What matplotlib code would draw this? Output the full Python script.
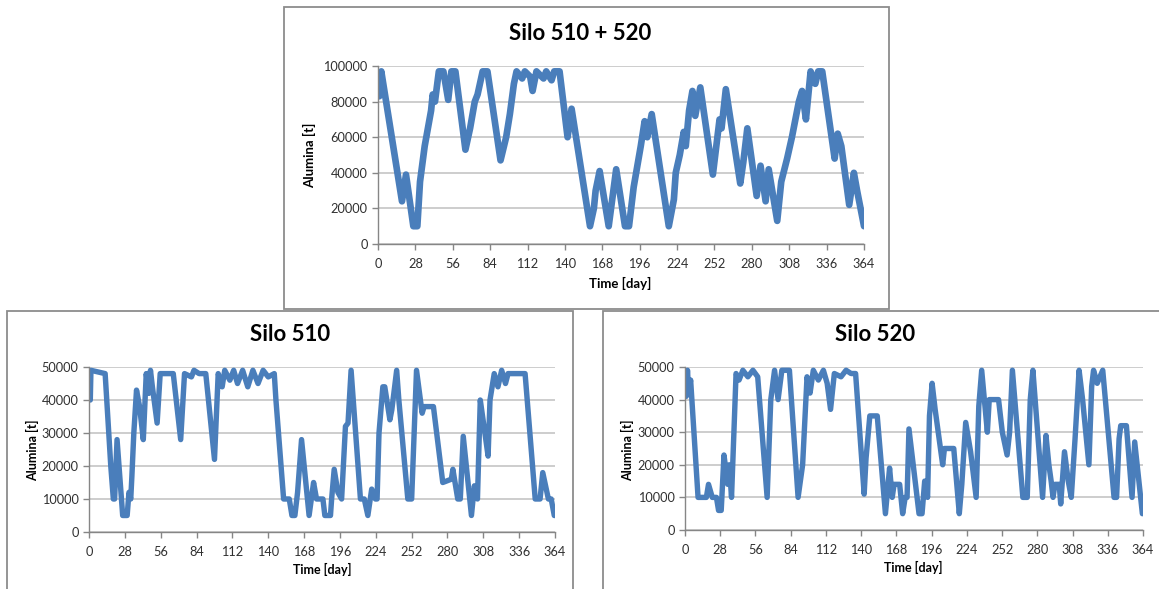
import matplotlib
matplotlib.use("Agg")
import matplotlib.pyplot as plt
from matplotlib.patches import Rectangle

# ==== Data (day, alumina in t) ====
total_days = [0, 1, 2.5, 18, 21, 26.5, 29.5, 31.5, 35, 39.8,
              41, 42.7, 45.6, 49, 52.6, 55, 58, 65.5, 69, 72.5,
              74.6, 78.4, 82, 91.8, 96, 98.8, 101.8, 103.8, 108, 110,
              114, 115.8, 118.7, 124, 126, 130, 132, 136, 142, 145,
              158.8, 161.7, 163, 166, 172.8, 178.4, 185, 188, 191.5, 196.8,
              199.7, 201.7, 205, 217.8, 221.6, 223, 226, 229, 230.5, 233,
              235.5, 237.6, 241.4, 250.8, 255.8, 257.3, 260.5, 271.3, 273.6, 276.6,
              283.6, 286.5, 290.3, 292.6, 299, 302, 306.4, 310, 315.2, 317.6,
              320.5, 324, 327.5, 329.7, 332.7, 342, 344.3, 347, 352.9, 356.4,
              358.8, 364]
total_vals = [85000, 83000, 97000, 24000, 39000, 10000, 10000, 35000, 55000, 75000,
              84000, 80000, 97000, 97000, 81000, 97000, 97000, 53000, 65000, 80000,
              84000, 97000, 97000, 47000, 60000, 73000, 90000, 97000, 93000, 97000,
              94000, 86000, 97000, 93000, 97000, 92000, 97000, 97000, 60000, 76000,
              10000, 20000, 30000, 41000, 10000, 42000, 10000, 10000, 32000, 55000,
              69000, 60000, 73000, 10000, 25000, 40000, 50000, 63000, 55000, 75000,
              86000, 72000, 88000, 39000, 70000, 65000, 87000, 34000, 46000, 65000,
              27000, 44000, 24000, 42000, 13000, 35000, 48000, 60000, 80000, 86000,
              70000, 97000, 90000, 97000, 97000, 48000, 62000, 55000, 22000, 40000,
              30000, 10000]

silo510_days = [0, 1, 1.5, 12.6, 17, 19, 20, 21.9, 26.3, 29.8,
                31.2, 32.6, 33.5, 35, 37.1, 39.5, 42.4, 44.7, 46.7, 48,
                49.5, 53.2, 55.6, 65.8, 71.6, 74.6, 80, 82, 86, 91.2,
                98, 100.9, 104, 106, 110, 113, 116, 120, 124, 128,
                132, 136, 140, 144.7, 146, 152, 156.4, 158.5, 160.8, 162.9,
                166, 171.9, 175.4, 177.7, 182.7, 184.2, 188.6, 189.5, 191.5, 194.4,
                197.3, 200.3, 202.3, 204.7, 212, 215, 217.8, 220.8, 223.7, 225,
                226.5, 229.5, 231, 235, 236.5, 240.3, 242, 249, 252, 255.8,
                260.2, 261.7, 269, 276.3, 283, 284.2, 288, 290, 292.3, 298.7,
                301, 303.4, 305.6, 308.5, 311.7, 313.2, 316.5, 319.4, 322.3, 325.3,
                327.3, 340.6, 348.5, 352.3, 354.4, 358.8, 361, 363.4, 364]
silo510_vals = [40000, 40000, 49000, 48000, 20000, 10000, 10000, 28000, 5000, 5000,
                12000, 10000, 17000, 30000, 43000, 38000, 28000, 48000, 42000, 49000,
                44000, 33000, 48000, 48000, 28000, 48000, 47000, 49000, 48000, 48000,
                22000, 48000, 44000, 49000, 46000, 49000, 45000, 49000, 44000, 49000,
                45000, 49000, 47000, 48000, 40000, 10000, 10000, 5000, 5000, 12000,
                28000, 5000, 15000, 10000, 10000, 5000, 5000, 10000, 19000, 12000,
                10000, 32000, 33000, 49000, 10000, 10000, 5000, 13000, 10000, 10000,
                30000, 44000, 44000, 34000, 37000, 49000, 40000, 10000, 10000, 49000,
                36000, 38000, 38000, 15000, 16000, 19000, 10000, 10000, 29000, 5000,
                14000, 10000, 40000, 32000, 23000, 40000, 48000, 44000, 49000, 45000,
                48000, 48000, 10000, 10000, 18000, 10000, 10000, 5000, 5000]

silo520_days = [0, 1, 2, 3, 4.5, 10.4, 17, 18.7, 21.7, 25,
                26.7, 28.8, 31, 34, 35.2, 37, 40.6, 43, 46, 50,
                54, 57.8, 65.3, 68.2, 71.2, 74, 77, 83, 89.9, 93.5,
                97, 99.4, 102, 106, 110, 113, 115.7, 118.7, 124, 128,
                132, 135.6, 142.4, 143.9, 146.9, 152.8, 159.3, 162.6, 164.7, 166.2,
                170.6, 173, 175, 176.5, 178, 186, 188.4, 190.5, 192.8, 194.3,
                196.4, 198.8, 204.8, 206.2, 213.6, 218, 220, 223.1, 227, 231.4,
                233.5, 235.8, 240.3, 241.8, 249.2, 252.2, 256, 258, 260.2, 268.5,
                272, 274.4, 276.5, 284.2, 286.9, 289.2, 291, 292.5, 294, 297.4,
                298.6, 301.6, 304.6, 307, 310, 313.2, 316, 321, 323.2, 324.7,
                327.6, 332, 341, 343, 345, 346.3, 350.8, 355.3, 357.4, 363.5]
silo520_vals = [45000, 41000, 49000, 42000, 46000, 10000, 10000, 14000, 10000, 10000,
                6000, 6000, 23000, 14000, 20000, 10000, 48000, 46000, 49000, 47000,
                49000, 47000, 10000, 40000, 49000, 40000, 49000, 49000, 10000, 20000,
                47000, 42000, 49000, 46000, 49000, 45000, 37000, 48000, 47000, 49000,
                48000, 48000, 11000, 22000, 35000, 35000, 5000, 19000, 10000, 14000,
                14000, 5000, 10000, 10000, 31000, 5000, 5000, 15000, 10000, 35000,
                45000, 37000, 20000, 25000, 25000, 5000, 14000, 33000, 24000, 10000,
                38000, 49000, 30000, 40000, 40000, 30000, 23000, 30000, 49000, 10000,
                10000, 40000, 49000, 10000, 29000, 20000, 15000, 10000, 14000, 14000,
                8000, 24000, 15000, 10000, 28000, 49000, 40000, 20000, 44000, 49000,
                45000, 49000, 10000, 10000, 28000, 32000, 32000, 10000, 27000, 5000]

day_ticks = list(range(0, 365, 28))

LINE_BLUE = "#4a7ebb"
GRID_GRAY = "#c0c0c0"
AXIS_GRAY = "#868686"
FRAME_GRAY = "#8c8c8c"

plt.rcParams['font.family'] = ['Lato', 'DejaVu Sans']

fig = plt.figure(figsize=(11.59, 5.89), dpi=100)


# ==== Function: style_axes ====
def style_axes(ax, ymax, ystep):
    ax.set_xlim(0, 364)
    ax.set_ylim(0, ymax)
    ax.set_xticks(day_ticks)
    ax.set_yticks(list(range(0, ymax + 1, ystep)))
    ax.yaxis.grid(True, color=GRID_GRAY, linewidth=1.1)
    ax.set_axisbelow(True)
    for side in ("top", "right"):
        ax.spines[side].set_visible(False)
    for side in ("left", "bottom"):
        ax.spines[side].set_color(AXIS_GRAY)
        ax.spines[side].set_linewidth(1.0)
    ax.tick_params(axis="both", colors=AXIS_GRAY, labelcolor="#303030",
                   labelsize=9.2, length=4, width=1.0, direction="out")
    ax.tick_params(axis="x", pad=6)


# ==== Panel frames ====
fig.patches.append(Rectangle((0.2450, 0.4754), 0.5220, 0.5127, transform=fig.transFigure,
                             fill=False, edgecolor=FRAME_GRAY, linewidth=1.3))
fig.patches.append(Rectangle((0.0060, -0.05), 0.4884, 0.5220, transform=fig.transFigure,
                             fill=False, edgecolor=FRAME_GRAY, linewidth=1.3))
fig.patches.append(Rectangle((0.5203, -0.05), 0.5500, 0.5220, transform=fig.transFigure,
                             fill=False, edgecolor=FRAME_GRAY, linewidth=1.3))

# ==== Top: combined silos ====
ax_top = fig.add_axes([0.3261, 0.5857, 0.4194, 0.3022])
ax_top.plot(total_days, total_vals, color=LINE_BLUE, linewidth=4.8,
            solid_joinstyle="round", solid_capstyle="round")
style_axes(ax_top, 100000, 20000)
fig.text(0.5004, 0.9423, "Silo 510 + 520", ha="center", va="center",
         fontsize=16, fontweight="bold")
fig.text(0.2675, 0.7368, "Alumina [t]", ha="center", va="center", rotation=90,
         fontsize=9.5, fontweight="bold")
fig.text(0.5350, 0.5195, "Time [day]", ha="center", va="center",
         fontsize=9.5, fontweight="bold")

# ==== Bottom left: Silo 510 ====
ax_510 = fig.add_axes([0.0768, 0.0968, 0.4021, 0.2801])
ax_510.plot(silo510_days, silo510_vals, color=LINE_BLUE, linewidth=3.9,
            solid_joinstyle="round", solid_capstyle="round")
style_axes(ax_510, 50000, 10000)
fig.text(0.2502, 0.4329, "Silo 510", ha="center", va="center",
         fontsize=16, fontweight="bold")
fig.text(0.0285, 0.2360, "Alumina [t]", ha="center", va="center", rotation=90,
         fontsize=9, fontweight="bold")
fig.text(0.2778, 0.0323, "Time [day]", ha="center", va="center",
         fontsize=9, fontweight="bold")

# ==== Bottom right: Silo 520 ====
ax_520 = fig.add_axes([0.5910, 0.1002, 0.3952, 0.2767])
ax_520.plot(silo520_days, silo520_vals, color=LINE_BLUE, linewidth=3.9,
            solid_joinstyle="round", solid_capstyle="round")
style_axes(ax_520, 50000, 10000)
fig.text(0.7550, 0.4329, "Silo 520", ha="center", va="center",
         fontsize=16, fontweight="bold")
fig.text(0.5418, 0.2360, "Alumina [t]", ha="center", va="center", rotation=90,
         fontsize=9, fontweight="bold")
fig.text(0.7877, 0.0357, "Time [day]", ha="center", va="center",
         fontsize=9, fontweight="bold")

fig.savefig("out.png", dpi=100)
plt.close(fig)
